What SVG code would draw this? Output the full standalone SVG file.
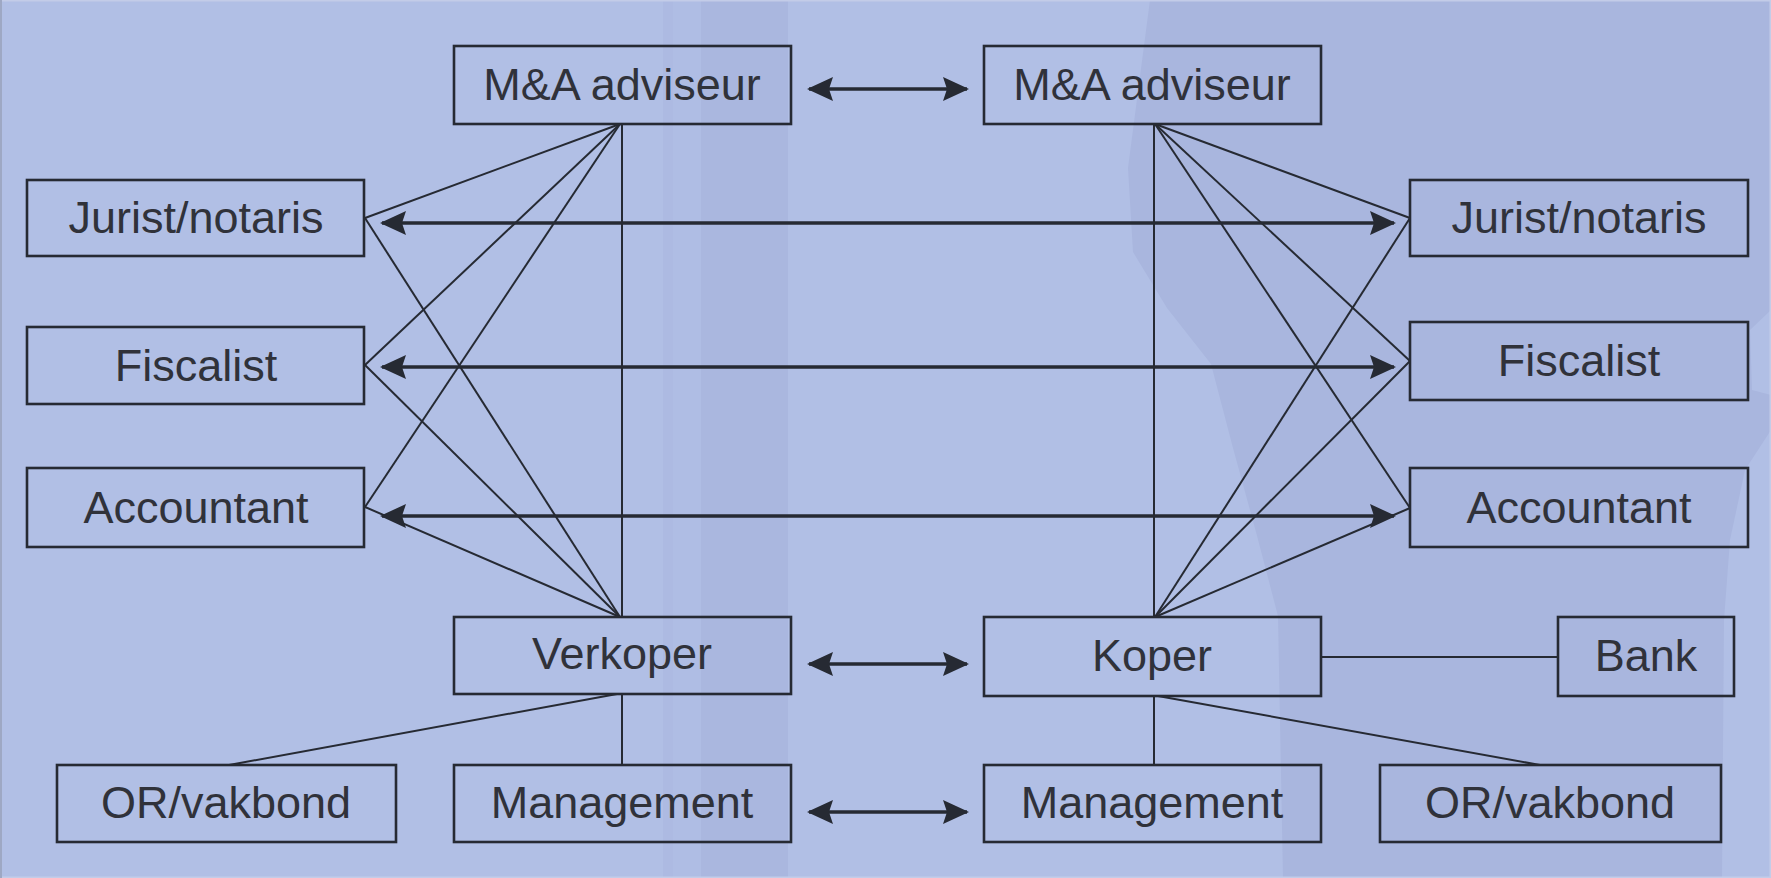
<svg xmlns="http://www.w3.org/2000/svg" width="1771" height="878" viewBox="0 0 1771 878">
<style>
.box{fill:none;stroke:#262a33;stroke-width:2.6}
.lbl{font-family:"Liberation Sans",Arial,sans-serif;font-size:45px;fill:#30323a;text-anchor:middle}
.thin{stroke:#262a33;stroke-width:2;fill:none}
.dbl{stroke:#262a33;stroke-width:3.5;fill:none;marker-start:url(#ah);marker-end:url(#ah)}
</style>
<defs>
<marker id="ah" markerUnits="userSpaceOnUse" markerWidth="26" markerHeight="26" viewBox="0 0 26 26" refX="24" refY="13" orient="auto-start-reverse">
<path d="M0,1 L26,13 L0,25 L4,13 Z" fill="#262a33"/>
</marker>
</defs>
<g id="background">
<rect x="0" y="0" width="1771" height="878" fill="#b1bfe5"/>
<rect x="663" y="0" width="10" height="878" fill="#adbae2"/>
<rect x="673" y="0" width="28" height="878" fill="#afbde4"/>
<rect x="701" y="0" width="87" height="878" fill="#aab7df"/>
<path d="M1150,0 L1139,84 L1128,168 L1133,252 L1167,308 L1211,364 L1233,448 L1256,532 L1278,616 L1283,878 L1722,878 L1724,620 L1730,540 L1745,470 L1771,430 L1771,395 L1752,390 L1750,330 L1771,310 L1771,0 Z" fill="#a9b6de"/>
<rect x="0.5" y="0.5" width="1770" height="877" fill="none" stroke="#c3cce8" stroke-width="2"/>
<line x1="1" y1="0" x2="1" y2="878" stroke="#9ea8c4" stroke-width="2"/>
</g>
<g id="connectors">
<line class="thin" x1="620" y1="124" x2="365" y2="218"/>
<line class="thin" x1="620" y1="124" x2="365" y2="365"/>
<line class="thin" x1="620" y1="124" x2="365" y2="507"/>
<line class="thin" x1="622" y1="124" x2="622" y2="617"/>
<line class="thin" x1="620" y1="617" x2="365" y2="218"/>
<line class="thin" x1="620" y1="617" x2="365" y2="365"/>
<line class="thin" x1="620" y1="617" x2="365" y2="507"/>
<line class="thin" x1="617" y1="694" x2="229" y2="765"/>
<line class="thin" x1="622" y1="694" x2="622" y2="765"/>
<line class="thin" x1="1155" y1="124" x2="1410" y2="218"/>
<line class="thin" x1="1155" y1="124" x2="1410" y2="361"/>
<line class="thin" x1="1155" y1="124" x2="1410" y2="508"/>
<line class="thin" x1="1154" y1="124" x2="1154" y2="617"/>
<line class="thin" x1="1155" y1="617" x2="1410" y2="218"/>
<line class="thin" x1="1155" y1="617" x2="1410" y2="361"/>
<line class="thin" x1="1155" y1="617" x2="1410" y2="508"/>
<line class="thin" x1="1321" y1="657" x2="1558" y2="657"/>
<line class="thin" x1="1158" y1="696" x2="1540" y2="765"/>
<line class="thin" x1="1154" y1="696" x2="1154" y2="765"/>
<line class="dbl" x1="809" y1="89" x2="967" y2="89"/>
<line class="dbl" x1="382" y1="223" x2="1394" y2="223"/>
<line class="dbl" x1="382" y1="367" x2="1394" y2="367"/>
<line class="dbl" x1="382" y1="516" x2="1394" y2="516"/>
<line class="dbl" x1="809" y1="664" x2="967" y2="664"/>
<line class="dbl" x1="809" y1="812" x2="967" y2="812"/>
</g>
<g id="ma-left"><rect class="box" x="454" y="46" width="337" height="78"/><text class="lbl" x="622" y="100">M&amp;A adviseur</text></g>
<g id="ma-right"><rect class="box" x="984" y="46" width="337" height="78"/><text class="lbl" x="1152" y="100">M&amp;A adviseur</text></g>
<g id="jurist-left"><rect class="box" x="27" y="180" width="337" height="76"/><text class="lbl" x="196" y="233">Jurist/notaris</text></g>
<g id="fiscalist-left"><rect class="box" x="27" y="327" width="337" height="77"/><text class="lbl" x="196" y="381">Fiscalist</text></g>
<g id="accountant-left"><rect class="box" x="27" y="468" width="337" height="79"/><text class="lbl" x="196" y="523">Accountant</text></g>
<g id="jurist-right"><rect class="box" x="1410" y="180" width="338" height="76"/><text class="lbl" x="1579" y="233">Jurist/notaris</text></g>
<g id="fiscalist-right"><rect class="box" x="1410" y="322" width="338" height="78"/><text class="lbl" x="1579" y="376">Fiscalist</text></g>
<g id="accountant-right"><rect class="box" x="1410" y="468" width="338" height="79"/><text class="lbl" x="1579" y="523">Accountant</text></g>
<g id="verkoper"><rect class="box" x="454" y="617" width="337" height="77"/><text class="lbl" x="622" y="669">Verkoper</text></g>
<g id="koper"><rect class="box" x="984" y="617" width="337" height="79"/><text class="lbl" x="1152" y="671">Koper</text></g>
<g id="bank"><rect class="box" x="1558" y="617" width="176" height="79"/><text class="lbl" x="1646" y="671">Bank</text></g>
<g id="or-left"><rect class="box" x="57" y="765" width="339" height="77"/><text class="lbl" x="226" y="818">OR/vakbond</text></g>
<g id="management-left"><rect class="box" x="454" y="765" width="337" height="77"/><text class="lbl" x="622" y="818">Management</text></g>
<g id="management-right"><rect class="box" x="984" y="765" width="337" height="77"/><text class="lbl" x="1152" y="818">Management</text></g>
<g id="or-right"><rect class="box" x="1380" y="765" width="341" height="77"/><text class="lbl" x="1550" y="818">OR/vakbond</text></g>
</svg>
